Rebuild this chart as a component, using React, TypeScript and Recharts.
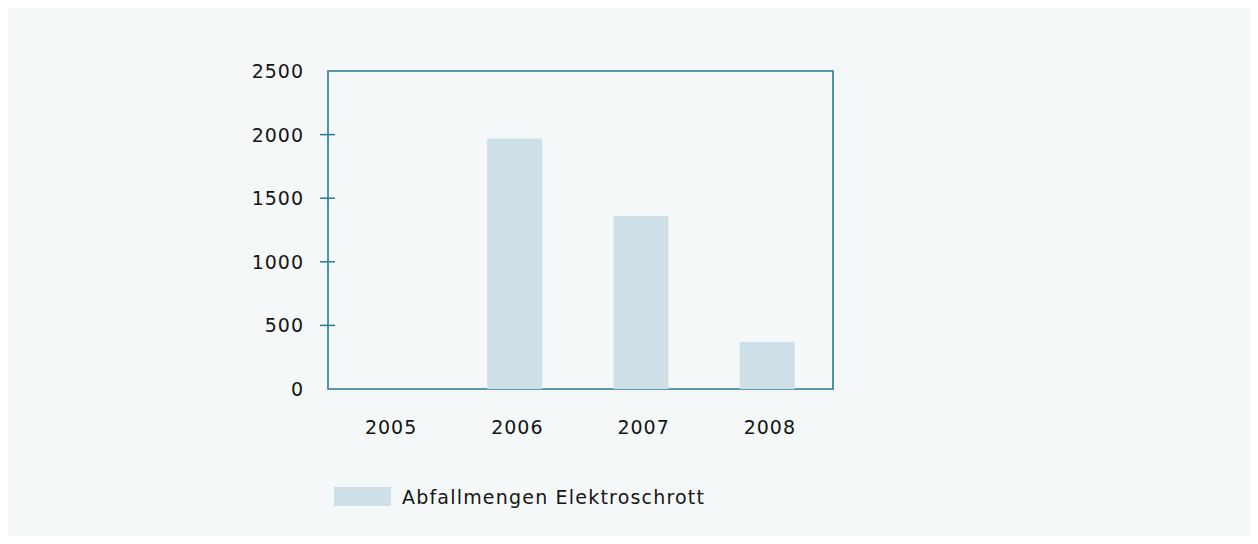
import React from "react";
import { BarChart, Bar, XAxis, YAxis, ReferenceArea } from "recharts";

const categories = ["2005", "2006", "2007", "2008"];
const wasteValues = [0, 1970, 1360, 370];
const yTicks = [0, 500, 1000, 1500, 2000, 2500];
const seriesName = "Abfallmengen Elektroschrott";

const data = categories.map((c, i) => ({ year: c, value: wasteValues[i] }));

const AXIS = "#287a97";
const BAR = "#cde0e7";
const BG = "#f5f8f9";
const FONT = "'DejaVu Sans', sans-serif";
const TXT = "#151515";

const YTick = (props: any) => {
  const { x, y, payload } = props;
  const showMark = payload.value !== 0 && payload.value !== 2500;
  return (
    <g>
      {showMark && <line x1={x - 8} x2={x + 7} y1={y} y2={y} stroke={AXIS} strokeWidth={1.5} />}
      <text x={x - 24} y={y} dy={7} textAnchor="end" fontSize={19} fontFamily={FONT} fill={TXT} letterSpacing={1}>
        {payload.value}
      </text>
    </g>
  );
};

const XTick = (props: any) => {
  const { x, y, payload } = props;
  return (
    <text x={x} y={y} dy={37} textAnchor="middle" fontSize={19} fontFamily={FONT} fill={TXT} letterSpacing={1}>
      {payload.value}
    </text>
  );
};

const ShiftedBar = (props: any) => {
  const { x, y, width, height, fill } = props;
  if (!height || height <= 0) return null;
  return <rect x={x - 3} y={y} width={width} height={height} fill={fill} />;
};

export default function App() {
  return (
    <div style={{ width: 1242, height: 528, background: BG, position: "relative" }}>
      <BarChart
        width={1242}
        height={528}
        data={data}
        margin={{ top: 63, right: 417, bottom: 107, left: 240 }}
      >
        <XAxis
          dataKey="year"
          axisLine={false}
          tickLine={false}
          tick={<XTick />}
          height={40}
          interval={0}
        />
        <YAxis
          domain={[0, 2500]}
          ticks={yTicks}
          axisLine={false}
          tickLine={false}
          tickSize={0}
          tickMargin={0}
          tick={<YTick />}
          width={80}
          interval={0}
        />
        <Bar
          dataKey="value"
          name={seriesName}
          fill={BAR}
          barSize={55}
          shape={<ShiftedBar />}
          isAnimationActive={false}
        />
        <ReferenceArea
          y1={0}
          y2={2500}
          fill="none"
          fillOpacity={0}
          stroke={AXIS}
          strokeWidth={1.6}
          ifOverflow="visible"
        />
      </BarChart>
      <div
        style={{
          position: "absolute",
          left: 326,
          top: 479,
          height: 19,
          display: "flex",
          alignItems: "center",
          fontFamily: FONT,
          fontSize: 19,
          letterSpacing: 1.2,
          color: TXT,
        }}
      >
        <span style={{ display: "inline-block", width: 57, height: 19, background: BAR, marginRight: 11 }} />
        <span>{seriesName}</span>
      </div>
    </div>
  );
}
